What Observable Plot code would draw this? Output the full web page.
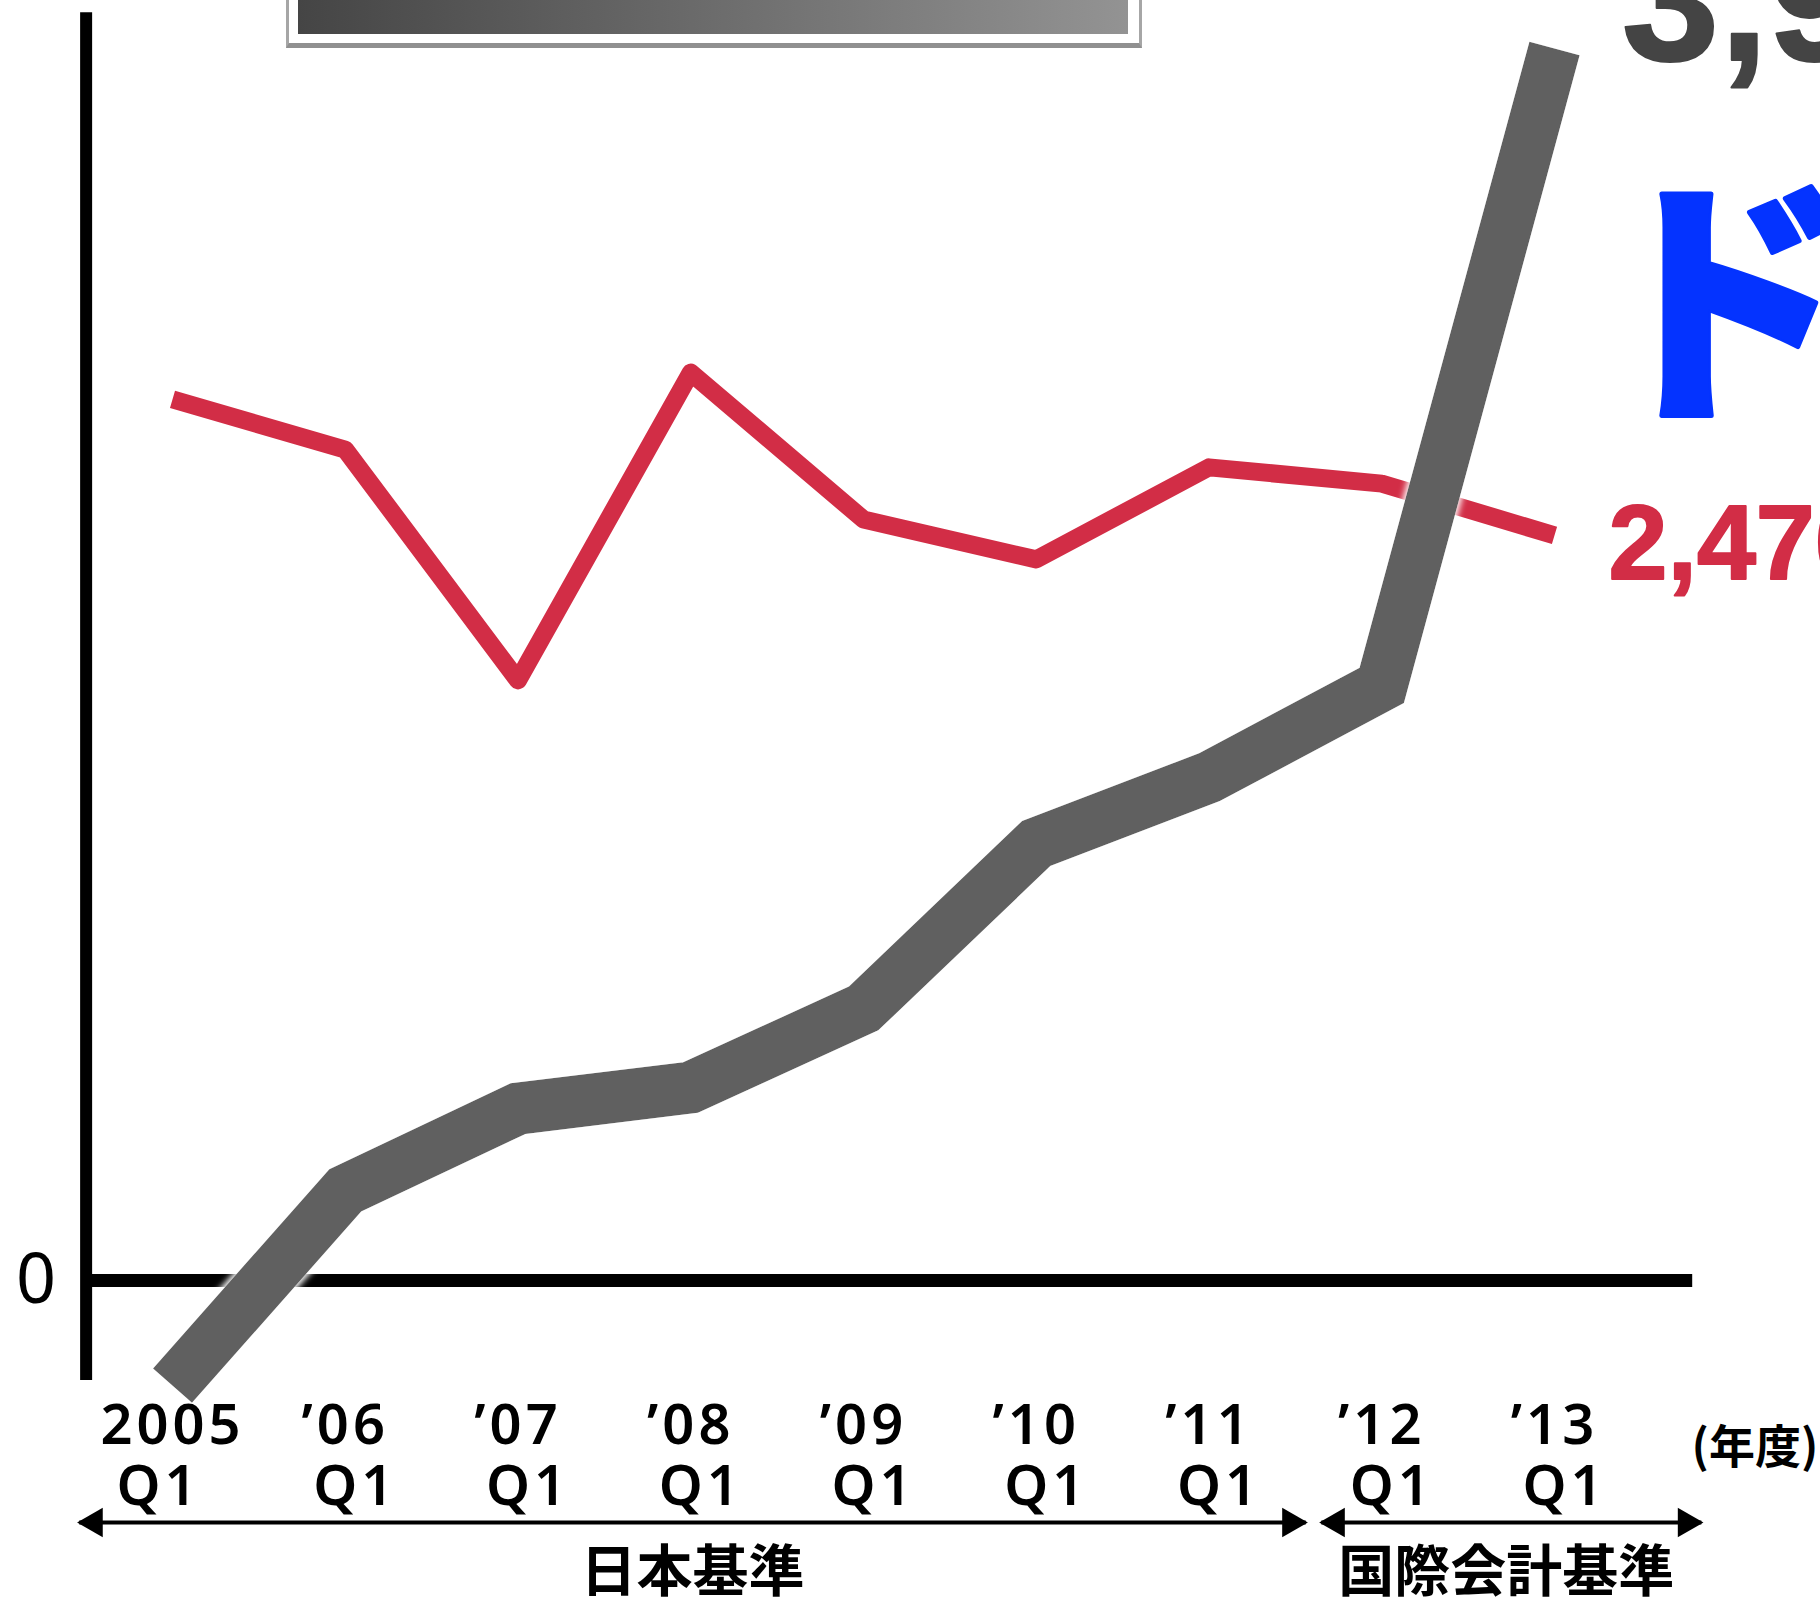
<!DOCTYPE html>
<html>
<head>
<meta charset="utf-8">
<script src="https://cdn.jsdelivr.net/npm/d3@7"></script>
<script src="https://cdn.jsdelivr.net/npm/@observablehq/plot@0.6"></script>
<style>
  html, body { margin: 0; padding: 0; background: #fff; overflow: hidden; }
  #wrap { position: relative; width: 1820px; height: 1600px; overflow: hidden; }
  #titlebox { position: absolute; left: 286px; top: -30px; width: 856px; height: 78px; box-sizing: border-box;
    border: 3px solid #a6a6a6; border-bottom: 5px solid #909090; background: #fff; }
  #titlebox .grad { position: absolute; left: 9px; right: 11px; top: 0; bottom: 9px;
    background: linear-gradient(to right, #454545, #939393); }
  g.ticklab text { letter-spacing: 4px; }
</style>
</head>
<body>
<div id="wrap">
  <div id="chart"></div>
  <div id="titlebox"><div class="grad"></div></div>
</div>
<script>
// ---- data ----
const categories = ["2005 Q1", "'06 Q1", "'07 Q1", "'08 Q1", "'09 Q1", "'10 Q1", "'11 Q1", "'12 Q1", "'13 Q1"];
const yearLabels = ["2005", "’06", "’07", "’08", "’09", "’10", "’11", "’12", "’13"];
const quarterLabels = ["Q1", "Q1", "Q1", "Q1", "Q1", "Q1", "Q1", "Q1", "Q1"];
const grayValues = [-337, 289, 551, 619, 872, 1401, 1613, 1908, 3950];
const redValues = [2825, 2664, 1924, 2911, 2440, 2312, 2607, 2555, 2389];
const grayEndLabel = "3,950";
const redEndLabel = "2,470";
const blueNote = "ドル";
const zeroTick = [0];
const spanLabels = ["日本基準", "国際会計基準"];
const unitLabel = "(年度)";

// ---- build tables ----
const grayData = grayValues.map((v, i) => ({i, v, cat: categories[i]}));
const redData = redValues.map((v, i) => ({i, v, cat: categories[i]}));
const last = categories.length - 1;

// annotation spans (x in category-index units)
const spans = [
  {label: spanLabels[0], from: -0.54, to: 6.56, textAt: 3.01},
  {label: spanLabels[1], from: 6.65, to: 8.85, textAt: 7.72}
];
const ARROW_Y = -776;
const heads = spans.flatMap(s => [{x: s.from, dir: -1}, {x: s.to, dir: 1}]);

const jp = "'Noto Sans CJK JP', sans-serif";
const num = "'Noto Sans', 'DejaVu Sans', sans-serif";
const heavy = "'Liberation Sans', Arial, sans-serif";
const RED = "#d22d46";
const GRAY = "#616161";
const BLUE = "#0433ff";

const svg = Plot.plot({
  width: 1820,
  height: 1600,
  margin: 0,
  style: {background: "white", overflow: "hidden"},
  x: {type: "linear", domain: [0, last], range: [172, 1554], axis: null},
  y: {type: "linear", domain: [0, 4000], range: [1280, 32.4], axis: null},
  marks: [
    // y axis line
    Plot.ruleX([-0.5], {y1: -321, y2: 4065, stroke: "black", strokeWidth: 12}),
    // zero line
    Plot.ruleY(zeroTick, {x1: -0.5, x2: 8.8, stroke: "black", strokeWidth: 13}),
    Plot.text(zeroTick, {x: -0.5, y: d => d, text: d => String(d), dx: -50, textAnchor: "middle",
      lineAnchor: "middle", fontSize: 70, fontFamily: num, fontWeight: 400, fill: "black"}),
    // red series
    Plot.line(redData, {x: "i", y: "v", stroke: RED, strokeWidth: 18,
      strokeLinejoin: "round", strokeLinecap: "butt"}),
    // gray series
    Plot.line(grayData, {x: "i", y: "v", stroke: GRAY, strokeWidth: 52,
      strokeLinejoin: "miter", strokeMiterlimit: 10, strokeLinecap: "butt", className: "grayline"}),
    // end labels
    Plot.text([grayData[last]], {x: "i", y: "v", text: () => grayEndLabel, dx: 67, dy: 12,
      textAnchor: "start", lineAnchor: "bottom", fontSize: 176, fontWeight: "bold", fontFamily: heavy,
      fill: "#444444", stroke: "#444444", strokeWidth: 2}),
    Plot.text([redData[last]], {x: "i", y: "v", text: () => redEndLabel, dx: 54, dy: 44,
      textAnchor: "start", lineAnchor: "bottom", fontSize: 106, fontWeight: "bold", fontFamily: heavy,
      fill: RED, stroke: RED, strokeWidth: 2}),
    Plot.text([redData[last]], {x: "i", y: "v", text: () => blueNote, dx: 40, dy: -137,
      textAnchor: "start", lineAnchor: "bottom", fontSize: 260, fontWeight: 900, fontFamily: jp,
      fill: BLUE, stroke: BLUE, strokeWidth: 5}),
    // x tick labels
    Plot.text(yearLabels, {x: (d, i) => i, text: d => d, frameAnchor: "bottom", dy: -157,
      textAnchor: "middle", lineAnchor: "bottom", fontSize: 56, fontWeight: 600, fontFamily: num, fill: "black",
      className: "ticklab"}),
    Plot.text(quarterLabels, {x: (d, i) => i, text: d => d, frameAnchor: "bottom", dy: -96,
      filter: (d, i) => i > 0, dx: 10,
      textAnchor: "middle", lineAnchor: "bottom", fontSize: 56, fontWeight: 600, fontFamily: num, fill: "black",
      className: "ticklab"}),
    Plot.text(quarterLabels, {x: (d, i) => i, text: d => d, frameAnchor: "bottom", dy: -96,
      filter: (d, i) => i === 0, dx: -14,
      textAnchor: "middle", lineAnchor: "bottom", fontSize: 56, fontWeight: 600, fontFamily: num, fill: "black",
      className: "ticklab"}),
    Plot.text([unitLabel], {x: () => 9.16, text: d => d, frameAnchor: "bottom", dy: -138,
      textAnchor: "middle", lineAnchor: "bottom", fontSize: 46, fontWeight: 700, fontFamily: jp, fill: "black"}),
    // accounting-standard spans: double-headed arrows
    Plot.link(spans, {x1: "from", x2: "to", y1: () => ARROW_Y, y2: () => ARROW_Y,
      stroke: "black", strokeWidth: 4}),
    Plot.dot(heads.filter(h => h.dir > 0), {x: "x", y: () => ARROW_Y, symbol: "triangle", r: 11,
      rotate: 90, dx: -15, fill: "black", stroke: "none"}),
    Plot.dot(heads.filter(h => h.dir < 0), {x: "x", y: () => ARROW_Y, symbol: "triangle", r: 11,
      rotate: -90, dx: 15, fill: "black", stroke: "none"}),
    Plot.text(spans, {x: "textAt", text: "label", frameAnchor: "bottom", dy: -10,
      textAnchor: "middle", lineAnchor: "bottom", fontSize: 56, fontWeight: 700, fontFamily: jp, fill: "black"})
  ]
});

// soft white halo around the gray line
const ns = "http://www.w3.org/2000/svg";
const defs = document.createElementNS(ns, "defs");
defs.innerHTML = `<filter id="halo" x="-5%" y="-5%" width="110%" height="110%">
  <feMorphology in="SourceAlpha" operator="dilate" radius="2" result="d"/>
  <feGaussianBlur in="d" stdDeviation="3" result="b"/>
  <feFlood flood-color="#ffffff"/>
  <feComposite in2="b" operator="in" result="w"/>
  <feMerge><feMergeNode in="w"/><feMergeNode in="SourceGraphic"/></feMerge>
</filter>`;
svg.insertBefore(defs, svg.firstChild);
const g = svg.querySelector('g.grayline');
if (g) g.setAttribute("filter", "url(#halo)");

document.getElementById("chart").appendChild(svg);
</script>
</body>
</html>
